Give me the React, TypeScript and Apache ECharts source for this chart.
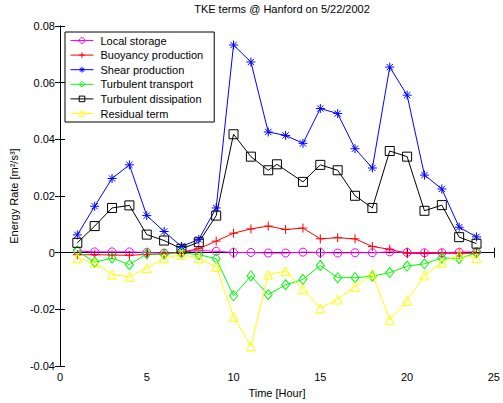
import React, { useEffect, useRef } from "react";
import * as echarts from "echarts";

// Hourly TKE budget terms, Hanford, 5/22/2002 (m^2/s^3)
const hours = [1, 2, 3, 4, 5, 6, 7, 8, 9, 10, 11, 12, 13, 14, 15, 16, 17, 18, 19, 20, 21, 22, 23, 24];
const dissipationHours = [1, 2, 3, 4, 5, 6, 7, 8, 9, 10, 11, 12, 12.5, 14, 15, 16, 17, 18, 19, 20, 21, 22, 23, 24];

const localStorageTerm = [0.0006, 0.0003, 0.0003, 0.0003, 0.0001, -0.0001, 0.0001, 0.0008, 0.0005, 0.0001, 0.0001, -0.0001, -0.0001, 0.0002, 0.0001, -0.0001, 0, 0, 0.0003, 0.0001, 0, 0, 0.0002, 0.0003];
const buoyancy = [-0.0007, -0.0007, -0.0008, -0.0009, -0.0006, -0.0004, 0.0002, 0.0014, 0.0041, 0.0069, 0.0084, 0.0094, 0.0082, 0.0087, 0.0049, 0.0053, 0.0049, 0.0022, 0.0012, -0.0002, -0.0003, -0.0002, -0.0002, -0.0002];
const shear = [0.0063, 0.0164, 0.0262, 0.031, 0.0131, 0.0075, 0.0022, 0.0047, 0.0158, 0.0733, 0.0673, 0.0426, 0.0414, 0.0386, 0.0509, 0.0491, 0.0367, 0.0299, 0.0655, 0.0556, 0.0274, 0.0225, 0.009, 0.0056];
const transport = [0.0006, -0.0033, -0.0019, -0.0042, -0.0004, -0.0005, 0, -0.0007, -0.0021, -0.0152, -0.0082, -0.0148, -0.0113, -0.0094, -0.0045, -0.0088, -0.0088, -0.0083, -0.007, -0.0047, -0.0039, -0.0018, -0.0021, 0];
const dissipation = [0.0035, 0.0094, 0.0158, 0.0167, 0.0064, 0.0043, 0.0014, 0.0037, 0.0131, 0.0418, 0.0339, 0.0291, 0.0312, 0.025, 0.031, 0.0291, 0.0201, 0.0158, 0.0359, 0.0339, 0.0148, 0.0168, 0.0055, 0.0032];
const residual = [-0.0019, -0.0035, -0.0077, -0.0085, -0.0054, -0.0019, -0.0007, -0.0019, -0.005, -0.0226, -0.033, -0.0077, -0.0065, -0.0129, -0.0196, -0.0165, -0.012, -0.0074, -0.0237, -0.017, -0.008, -0.0035, -0.0007, -0.0019];

const xTicks = { min: 0, max: 25, interval: 5 };
const yTicks = { min: -0.04, max: 0.08, interval: 0.02 };

const FONT = "Liberation Sans, Arial, sans-serif";

const PLUS = "path://M0,-1L0,1M-1,0L1,0";
const STAR = "path://M0,-1L0,1M-1,0L1,0M-0.7,-0.7L0.7,0.7M-0.7,0.7L0.7,-0.7";

function pairs(xs: number[], ys: number[]) {
  return xs.map((x, i) => [x, ys[i]]);
}

function lineSeries(name: string, color: string, symbol: string, size: number | number[], data: number[][]) {
  return {
    type: "line",
    name,
    data,
    symbol,
    symbolSize: size,
    showSymbol: true,
    showAllSymbol: true,
    lineStyle: { color, width: 1 },
    itemStyle: { color: "rgba(0,0,0,0)", borderColor: color, borderWidth: 1 },
    emphasis: { disabled: true },
  };
}

export default function App() {
  const ref = useRef<HTMLDivElement>(null);

  useEffect(() => {
    if (!ref.current) return;
    const chart = echarts.init(ref.current, undefined, { renderer: "svg" });
    const tickLabel = { color: "#000", fontFamily: FONT, fontSize: 11 };
    const axisLine = { show: true, lineStyle: { color: "#000", width: 1 } };
    const axisTick = { show: true, inside: true, length: 5, lineStyle: { color: "#000" } };
    const fmt = (v: number) => String(Number(v.toFixed(2)));

    chart.setOption({
      animation: false,
      backgroundColor: "#fff",
      grid: { left: 59, right: 2, top: 26, bottom: 35, containLabel: false },
      graphic: [
        {
          type: "text",
          x: 282,
          y: 9,
          style: {
            text: "TKE terms @ Hanford on 5/22/2002",
            fontFamily: FONT,
            fontSize: 11,
            fill: "#000",
            textAlign: "center",
            textVerticalAlign: "middle",
          },
        },
      ],
      legend: {
        left: 65,
        top: 32,
        orient: "vertical",
        backgroundColor: "#fff",
        borderColor: "#000",
        borderWidth: 1,
        borderRadius: 0,
        padding: [3, 11, 3, 5],
        itemWidth: 23,
        itemHeight: 7,
        itemGap: 3.6,
        selectedMode: false,
        lineStyle: { width: 1 },
        itemStyle: { borderWidth: 1 },
        textStyle: { color: "#000", fontFamily: FONT, fontSize: 11, padding: [0, 0, 0, 2] },
      },
      xAxis: [
        {
          type: "value",
          ...xTicks,
          name: "Time [Hour]",
          nameLocation: "middle",
          nameGap: 20,
          nameTextStyle: { color: "#000", fontFamily: FONT, fontSize: 11 },
          axisLine,
          axisTick,
          axisLabel: { ...tickLabel, margin: 5 },
          splitLine: { show: false },
        },
        {
          type: "value",
          position: "top",
          ...xTicks,
          axisLine,
          axisTick,
          axisLabel: { show: false },
          splitLine: { show: false },
        },
      ],
      yAxis: [
        {
          type: "value",
          ...yTicks,
          name: "Energy Rate [m²/s³]",
          nameLocation: "middle",
          nameGap: 38,
          nameTextStyle: { color: "#000", fontFamily: FONT, fontSize: 11 },
          axisLine,
          axisTick,
          axisLabel: { ...tickLabel, margin: 5, formatter: fmt },
          splitLine: { show: false },
        },
        {
          type: "value",
          position: "right",
          ...yTicks,
          axisLine,
          axisTick,
          axisLabel: { show: false },
          splitLine: { show: false },
        },
      ],
      series: [
        lineSeries("Local storage", "#ff00ff", "circle", 8, pairs(hours, localStorageTerm)),
        lineSeries("Buoyancy production", "#ff0000", PLUS, 9, pairs(hours, buoyancy)),
        lineSeries("Shear production", "#0000ff", STAR, 9, pairs(hours, shear)),
        lineSeries("Turbulent transport", "#00ff00", "diamond", [8, 10], pairs(hours, transport)),
        lineSeries("Turbulent dissipation", "#000000", "rect", 9, pairs(dissipationHours, dissipation)),
        lineSeries("Residual term", "#ffff00", "triangle", 9, pairs(hours, residual)),
      ],
    });
    return () => chart.dispose();
  }, []);

  return (
    <div
      ref={ref}
      style={{ position: "fixed", left: 0, top: 0, width: 503, height: 403, background: "#fff" }}
    />
  );
}
